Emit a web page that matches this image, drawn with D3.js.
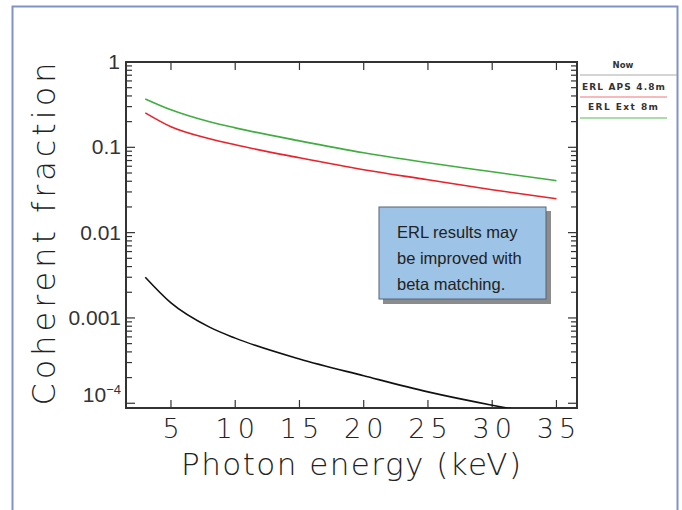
<!DOCTYPE html>
<html><head><meta charset="utf-8">
<script src="https://cdn.jsdelivr.net/npm/d3@7"></script>
<style>
html,body{margin:0;padding:0;background:#fff;}
svg{display:block;}
.thin{font-family:"DejaVu Sans","Liberation Sans",sans-serif;font-weight:200;fill:#222;}
.ylab{font-family:"Liberation Sans",Arial,sans-serif;fill:#333;}
</style></head>
<body>
<svg id="chart" width="682" height="510"></svg>
<script>
// ---- data ----
const energyKeV = [3, 5, 8, 10, 15, 20, 25, 30, 35];
const erlExt8m   = [0.369, 0.275, 0.199, 0.169, 0.119, 0.0862, 0.0659, 0.0517, 0.0406];
const erlAps48m  = [0.253, 0.174, 0.126, 0.107, 0.0754, 0.0546, 0.0417, 0.0318, 0.0250];
const nowSeries  = [0.0030, 0.0015, 0.00078, 0.00058, 0.00033, 0.00021, 0.000136, 0.000095, 0.00007];
const xTicks = [5, 10, 15, 20, 25, 30, 35];
const yMajor = [1, 0.1, 0.01, 0.001, 0.0001];
const yLabels = ["1", "0.1", "0.01", "0.001", "10^-4"];
const legendTitle = "Now";
const legendNames = ["ERL  APS  4.8m", "ERL  Ext  8m"];
const noteLines = ["ERL results may", "be improved with", "beta matching."];

const svg = d3.select("#chart");
const L = 126, R = 577, T = 62, B = 408;
const x = d3.scaleLinear().domain([1.5, 36.6]).range([L, R]);
const y = d3.scaleLog().domain([0.88e-4, 1]).range([B, T]);

// frame
svg.append("path").attr("d", `M12.5,512 L12.5,6.5 L677.5,6.5 L677.5,512`)
  .attr("fill", "none").attr("stroke", "#7f93c9").attr("stroke-width", 2);

// clip
svg.append("clipPath").attr("id", "clip").append("rect")
  .attr("x", L).attr("y", T).attr("width", R - L).attr("height", B - T);

// minor ticks for log axis
const minor = [];
for (let e = -4; e <= 0; e++) {
  for (let m = 1; m <= 9; m++) {
    const v = m * Math.pow(10, e);
    if (v >= 0.88e-4 && v <= 1) minor.push({v, major: m === 1});
  }
}
const axisG = svg.append("g").attr("stroke", "#333").attr("stroke-width", 1.2);
minor.forEach(d => {
  const len = d.major ? 9 : 6;
  axisG.append("line").attr("x1", L).attr("x2", L + len).attr("y1", y(d.v)).attr("y2", y(d.v));
  axisG.append("line").attr("x1", R).attr("x2", R - len).attr("y1", y(d.v)).attr("y2", y(d.v));
});
xTicks.forEach(t => {
  axisG.append("line").attr("x1", x(t)).attr("x2", x(t)).attr("y1", B).attr("y2", B - 8);
  axisG.append("line").attr("x1", x(t)).attr("x2", x(t)).attr("y1", T).attr("y2", T + 8);
});
svg.append("rect").attr("x", L).attr("y", T).attr("width", R - L).attr("height", B - T)
  .attr("fill", "none").attr("stroke", "#333").attr("stroke-width", 2);

// x tick labels
svg.append("g").selectAll("text").data(xTicks).join("text")
  .attr("class", "thin").attr("x", d => x(d)).attr("y", 438)
  .attr("text-anchor", "middle").attr("font-size", 27).attr("letter-spacing", 5)
  .attr("dx", 2.5)
  .text(d => d);

// y tick labels
yMajor.forEach((v, i) => {
  const t = svg.append("text").attr("class", "ylab").attr("x", 121).attr("y", y(v) + 7)
    .attr("text-anchor", "end").attr("font-size", 21);
  const lab = yLabels[i];
  if (lab.includes("^")) {
    const [b, p] = lab.split("^");
    t.attr("y", y(v) - 1);
    t.append("tspan").text(b);
    t.append("tspan").attr("dy", -8).attr("font-size", 13).text(p.replace("-", "\u2212"));
  } else {
    t.text(lab);
    if (v === 1) t.attr("y", y(v) + 7).attr("x", 120);
  }
});

// axis titles
svg.append("text").attr("class", "thin").attr("x", 351).attr("y", 475)
  .attr("text-anchor", "middle").attr("font-size", 31)
  .attr("textLength", 340).attr("lengthAdjust", "spacing")
  .text("Photon energy (keV)");
svg.append("text").attr("class", "thin")
  .attr("transform", "translate(55,234) rotate(-90)")
  .attr("text-anchor", "middle").attr("font-size", 32)
  .attr("textLength", 343).attr("lengthAdjust", "spacing")
  .text("Coherent fraction");

// curves
const line = d3.line().x(d => x(d[0])).y(d => y(d[1])).curve(d3.curveMonotoneX);
const series = [
  {vals: erlExt8m, color: "#3fae3f"},
  {vals: erlAps48m, color: "#e8232a"},
  {vals: nowSeries, color: "#111"}
];
const cg = svg.append("g").attr("clip-path", "url(#clip)");
series.forEach(s => {
  cg.append("path").datum(energyKeV.map((e, i) => [e, s.vals[i]]))
    .attr("d", line).attr("fill", "none").attr("stroke", s.color).attr("stroke-width", 1.6);
});

// legend
const lg = svg.append("g").attr("font-family", "DejaVu Sans, sans-serif").attr("font-size", 9)
  .attr("font-weight", 600).attr("fill", "#333");
lg.append("text").attr("x", 623).attr("y", 68).attr("text-anchor", "middle").attr("font-size", 8.5).text(legendTitle);
lg.append("line").attr("x1", 580).attr("x2", 677).attr("y1", 75).attr("y2", 75).attr("stroke", "#aaa");
lg.append("text").attr("x", 582).attr("y", 90).attr("textLength", 83).attr("lengthAdjust", "spacing").text(legendNames[0]);
lg.append("line").attr("x1", 580).attr("x2", 667).attr("y1", 97).attr("y2", 97).attr("stroke", "#f5a3a3").attr("stroke-width", 1.5);
lg.append("text").attr("x", 588).attr("y", 110).attr("textLength", 70).attr("lengthAdjust", "spacing").text(legendNames[1]);
lg.append("line").attr("x1", 580).attr("x2", 667).attr("y1", 118).attr("y2", 118).attr("stroke", "#8fd28f").attr("stroke-width", 1.5);

// note box
svg.append("rect").attr("x", 383).attr("y", 211).attr("width", 168).attr("height", 93).attr("fill", "#8c8c8c");
svg.append("rect").attr("x", 379).attr("y", 207).attr("width", 167).attr("height", 92)
  .attr("fill", "#9dc3e6").attr("stroke", "#55637a").attr("stroke-width", 1);
svg.append("g").selectAll("text").data(noteLines).join("text")
  .attr("x", 397).attr("y", (d, i) => 238 + i * 26)
  .attr("font-family", "Liberation Sans, Arial, sans-serif").attr("font-size", 16.5).attr("fill", "#222")
  .text(d => d);
</script>
</body></html>
